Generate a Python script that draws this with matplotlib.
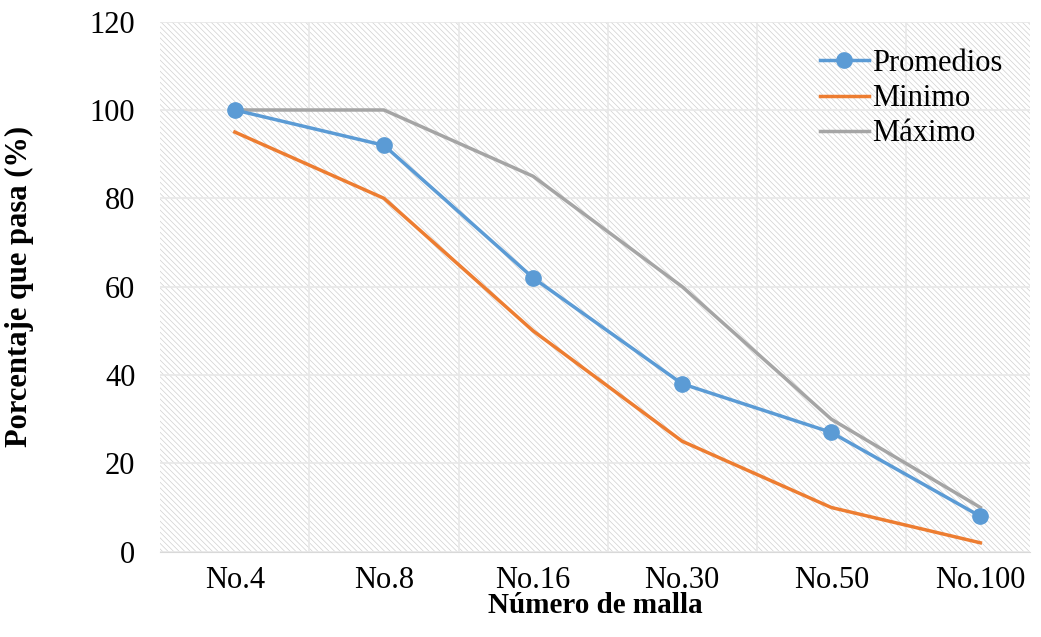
import numpy as np
import matplotlib.pyplot as plt
import matplotlib as mpl

mallas = ['No.4', 'No.8', 'No.16', 'No.30', 'No.50', 'No.100']
promedios = [100, 92, 62, 38, 27, 8]
minimo = [95, 80, 50, 25, 10, 2]
maximo = [100, 100, 85, 60, 30, 10]

plt.rcParams['font.family'] = ['Liberation Serif', 'DejaVu Serif']
mpl.rcParams['hatch.color'] = '#d0d0d0'
mpl.rcParams['hatch.linewidth'] = 0.5

fig = plt.figure(figsize=(10.41, 6.37), dpi=100)
ax = fig.add_axes([0.154, 0.134, 0.835, 0.832])
ax.patch.set_hatch('\\\\\\\\\\\\')
ax.patch.set_edgecolor('#d0d0d0')
ax.patch.set_facecolor('white')

x = np.arange(len(mallas))
ax.plot(x, maximo, color='#a5a5a5', lw=2.5, label='Máximo', zorder=3)
ax.plot(x, minimo, color='#ed7d31', lw=2.5, label='Minimo', zorder=3)
ax.plot(x, promedios, color='#5b9bd5', lw=2.5, marker='o', ms=11, label='Promedios', zorder=4)

ax.set_xlim(-0.5, 5.33)
ax.set_ylim(0, 120)
ax.set_yticks(range(0, 121, 20))
ax.set_xticks(x)
ax.set_xticklabels(mallas)
ax.set_xticks(np.arange(0.5, 5.0, 1), minor=True)
ax.grid(axis='y', color='#e8e8e8', lw=1.2)
ax.grid(axis='x', which='minor', color='#e8e8e8', lw=1.2)
ax.tick_params(which='both', length=0, labelsize=22)
ax.tick_params(axis='x', pad=10)
ax.tick_params(axis='y', pad=18)
for s in ['top', 'right', 'left']:
    ax.spines[s].set_visible(False)
ax.spines['bottom'].set_color('#d9d9d9')

ax.set_xlabel('Número de malla', fontsize=21, fontweight='bold', labelpad=-2)
ax.set_ylabel('Porcentaje que pasa (%)', fontsize=22, fontweight='bold', labelpad=40)

h, l = ax.get_legend_handles_labels()
order = [2, 1, 0]
ax.legend([h[i] for i in order], [l[i] for i in order], loc='upper right',
          fontsize=22, frameon=False, handlelength=1.6, handletextpad=0.1,
          labelspacing=0.2, bbox_to_anchor=(1.0, 1.0))
fig.savefig('out.png', dpi=100)
